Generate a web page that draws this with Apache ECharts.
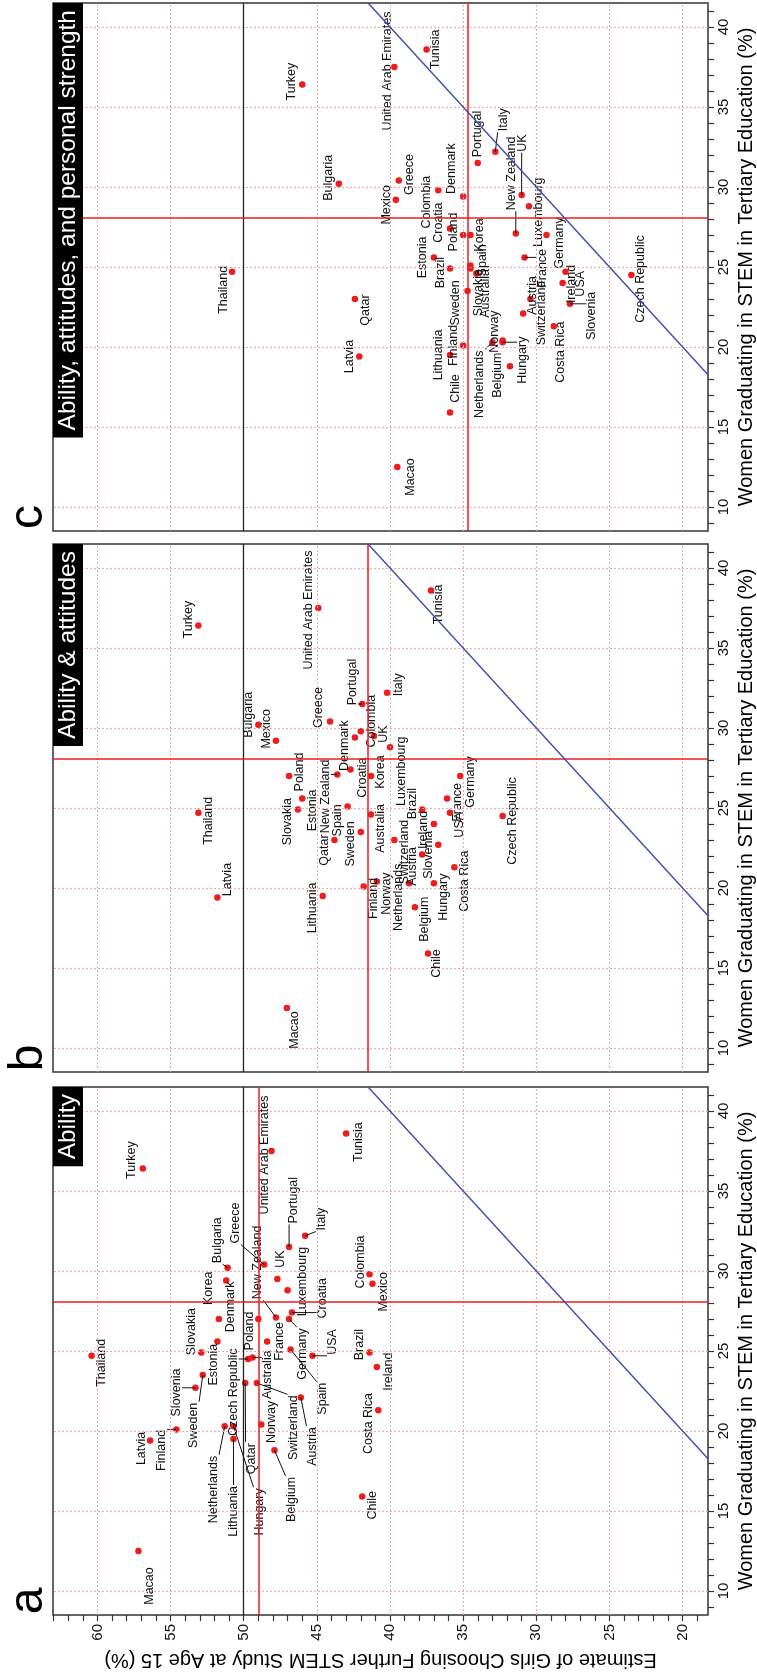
<!DOCTYPE html>
<html><head><meta charset="utf-8">
<script src="https://cdn.jsdelivr.net/npm/echarts@6/dist/echarts.min.js"></script>
<style>html,body{margin:0;padding:0;background:#fff}#chart{width:757px;height:1676px}</style>
</head><body><div id="chart"></div>
<script>
// ---------------- data ----------------
const countries = ['Macao','Thailand','Latvia','Finland','Slovenia','Sweden','Slovakia','Estonia','Korea','Denmark',
 'Bulgaria','Greece','Netherlands','Czech Republic','Lithuania','Hungary','Qatar','Poland','Australia','Switzerland',
 'Norway','New Zealand','United Arab Emirates','UK','Portugal','France','Germany','Luxembourg','Croatia','Belgium',
 'Austria','Spain','Italy','USA','Tunisia','Colombia','Mexico','Brazil','Ireland','Costa Rica','Chile','Turkey'];
// Women graduating in STEM (%) - shared by all panels
const stemGrad = [12.5,24.7,19.4,20.1,22.7,23.5,24.9,25.6,27.0,29.4,
 30.2,30.4,20.3,24.5,19.5,20.3,23.0,27.0,24.6,23.0,
 20.4,27.1,37.5,29.5,31.5,25.6,27.0,28.8,27.4,18.8,
 22.1,25.1,32.2,24.7,38.6,29.8,29.2,24.9,24.0,21.3,15.9,36.4];
// Estimate of girls choosing further STEM study (%)
const girlsAbility = [57.2,60.4,56.4,54.6,53.3,52.8,52.9,51.8,51.7,51.2,
 51.1,48.6,51.3,49.7,50.7,50.7,49.9,49.0,49.4,49.1,
 48.8,47.8,48.1,47.7,46.9,48.4,46.9,47.0,46.7,47.9,
 46.1,46.8,45.8,45.3,43.0,41.4,41.2,41.4,40.9,40.8,41.9,56.9];
const girlsAttitudes = [47.05,53.1,51.8,41.8,36.7,42.0,46.3,46.0,41.3,42.4,
 49.0,44.1,38.7,32.3,44.6,37.0,43.8,46.9,41.3,39.7,
 40.9,43.6,44.9,41.1,41.9,36.1,35.2,40.0,42.7,38.3,
 37.8,42.9,40.2,35.9,37.2,42.0,47.8,37.8,37.0,35.6,37.4,53.1];
const girlsPersonal = [39.5,50.8,42.1,35.0,27.7,34.7,34.5,37.0,34.5,35.0,
 43.5,39.4,33.0,23.5,35.9,32.3,42.4,35.0,34.1,30.4,
 32.3,31.4,39.7,31.0,34.0,30.8,29.3,30.5,35.9,31.8,
 30.9,34.5,32.8,28.0,37.5,36.7,39.6,35.9,28.2,28.8,35.9,46.0];
const meanGirls = [49.0, 41.5, 34.7];
const meanStem = 28.1;
const parityValue = 50;
const girlsTickLabels = [20,25,30,35,40,45,50,55,60];
const stemTickLabels = [10,15,20,25,30,35,40];
const panelTitles = ['Ability','Ability & attitudes','Ability, attitudes, and personal strength'];
const panelLetters = ['a','b','c'];
const xTitle = 'Women Graduating in STEM in Tertiary Education (%)';
const yTitle = 'Estimate of Girls Choosing Further STEM Study at Age 15 (%)';

// ---------------- label layout (pixel offsets of label centre from point, leader flag) ----------------
const layoutA = {
 'Macao':[10.7,35,0],'Thailand':[10.2,7,0],'Latvia':[-9,7.8,0],'Finland':[-15,21,1],'Slovenia':[-19,4.7,1],
 'Sweden':[-9.3,50.3,1],'Slovakia':[-10,-21,0],'Estonia':[-3.7,23.3,0],'Korea':[-10.3,-30.7,0],'Denmark':[4.3,26.3,0],
 'Bulgaria':[-10.6,-27.6,1],'Greece':[-29,-41.5,1],'Netherlands':[-11.3,63.3,1],'Czech Republic':[-15,33.3,1],
 'Lithuania':[0,72.3,1],'Hungary':[25.7,85.7,1],'Qatar':[6,75.7,1],'Poland':[-9.3,12,0],'Australia':[14.8,17.3,1],
 'Switzerland':[36.3,44.7,1],'Norway':[10.7,-2.7,0],'New Zealand':[-18.2,-55,1],'United Arab Emirates':[-7,4,0],
 'UK':[3.3,-20,0],'Portugal':[4.7,-46.8,1],'France':[12.7,0,0],'Germany':[13.5,35,1],'Luxembourg':[15.2,-8.7,0],
 'Croatia':[30.2,-14.3,1],'Belgium':[16.7,49.3,1],'Austria':[11.3,49,1],'Spain':[31.8,49.3,1],'Italy':[16.3,-16.7,1],
 'USA':[20.2,-13.8,1],'Tunisia':[12.3,8.7,0],'Colombia':[-9.3,-12.2,0],'Mexico':[10.7,8,0],'Brazil':[-10.3,-8,0],
 'Ireland':[11.7,4.7,0],'Costa Rica':[-9.3,13.3,0],'Chile':[10.3,8.7,0],'Turkey':[-11,-8.5,0]
};
const layoutB = {
 'Macao':[8,22,0],'Thailand':[10,8,0],'Latvia':[10,-18,0],'Finland':[10,12,0],'Slovenia':[-10,10,0],
 'Sweden':[-10,12,0],'Slovakia':[-10,12,0],'Estonia':[10,12,0],'Korea':[10,-4,0],'Denmark':[-10,8,0],
 'Bulgaria':[-10,-10,0],'Greece':[-11,-14,0],'Netherlands':[-10,14,0],'Czech Republic':[10,5,0],
 'Lithuania':[-10,12,0],'Hungary':[10,14,0],'Qatar':[-10,10,0],'Poland':[10,-4,0],'Australia':[10,14,0],
 'Switzerland':[10,12,0],'Norway':[10,12,0],'New Zealand':[-12,22,1],'United Arab Emirates':[-10,2,0],
 'UK':[10,-2,0],'Portugal':[-10,-22,1],'France':[10,4,0],'Germany':[10,6,0],'Luxembourg':[12,24,0],
 'Croatia':[12,8,0],'Belgium':[10,12,0],'Austria':[-10,12,0],'Spain':[-10,14,0],'Italy':[11,-8,0],
 'USA':[10,12,0],'Tunisia':[8,14,0],'Colombia':[11,-10,0],'Mexico':[-9,-12,0],'Brazil':[-10,-6,0],
 'Ireland':[-10,6,0],'Costa Rica':[10,14,0],'Chile':[9,10,0],'Turkey':[-10,-6,0]
};
const layoutC = {
 'Macao':[13,10,0],'Thailand':[-8,18,0],'Latvia':[-10,0,0],'Finland':[-10,0,0],'Slovenia':[22,12,1],
 'Sweden':[-12,12,0],'Slovakia':[8,24,0],'Estonia':[-11,0,0],'Korea':[9,0,0],'Denmark':[-12,-28,0],
 'Bulgaria':[-10,-6,0],'Greece':[11,-6,0],'Netherlands':[-13,42,1],'Czech Republic':[9,4,0],
 'Lithuania':[-11,0,0],'Hungary':[20,18,1],'Qatar':[11,11,0],'Poland':[-10,-3,0],'Australia':[9,20,0],
 'Switzerland':[11,14,0],'Norway':[-8,-9,0],'New Zealand':[-4,-60,1],'United Arab Emirates':[-7,4,0],
 'UK':[1,-52,1],'Portugal':[0,-29,0],'France':[18,11,1],'Germany':[13,8,0],'Luxembourg':[10,6,0],
 'Croatia':[-11,-6,0],'Belgium':[-12,9,0],'Austria':[9,-18,0],'Spain':[12,-5,0],'Italy':[8,-32,1],
 'USA':[15,12,0],'Tunisia':[9,0,0],'Colombia':[-12,12,0],'Mexico':[-9,5,0],'Brazil':[-9,4,0],
 'Ireland':[9,1,0],'Costa Rica':[7,26,0],'Chile':[6,-24,0],'Turkey':[-11,-3,0]
};

// ---------------- geometry & style ----------------
const FONT = '"Liberation Sans", Arial, Helvetica, sans-serif';
const LABEL_SIZE = 12.5;
const GRID_LEFT = 53, GRID_W = 655, GRID_H = 528;
const panelTops = [1087, 544, 3];
const girlsRange = [18.26, 63.04];
const stemRange = [8.5, 41.5];
const RED = '#ee1c1c', FRAME = '#333333', BLUE = '#3c4fb0', GRIDC = '#f3a9a9';

const measureCtx = document.createElement('canvas').getContext('2d');
function textW(t, size){ measureCtx.font = size + 'px ' + FONT; return measureCtx.measureText(t).width; }
function intRange(a,b){ const r=[]; for(let v=Math.ceil(a); v<=Math.floor(b); v++) r.push(v); return r; }

const chart = echarts.init(document.getElementById('chart'), null, {renderer:'canvas'});
const grids=[], xAxes=[], yAxes=[], series=[], graphics=[];
const girlsSets = [girlsAbility, girlsAttitudes, girlsPersonal];
const layouts = [layoutA, layoutB, layoutC];

panelTops.forEach((top, pi) => {
  const isA = pi === 0;
  grids.push({left:GRID_LEFT, top:top, width:GRID_W, height:GRID_H, show:true, borderColor:FRAME, borderWidth:1.5,
    backgroundColor:'rgba(0,0,0,0)', containLabel:false, outerBoundsMode:'none'});
  xAxes.push({gridIndex:pi, type:'value', min:girlsRange[0], max:girlsRange[1], inverse:true,
    axisLine:{show:false}, splitLine:{show:false},
    axisTick:{show:isA, customValues:intRange(girlsRange[0], girlsRange[1]), length:6, lineStyle:{color:FRAME, width:1.2}},
    axisLabel:{show:isA, customValues:girlsTickLabels, rotate:90, margin:9, fontSize:15, color:'#111', fontFamily:FONT}});
  yAxes.push({gridIndex:pi, type:'value', position:'right', min:stemRange[0], max:stemRange[1],
    axisLine:{show:false}, splitLine:{show:false},
    axisTick:{show:true, customValues:intRange(stemRange[0], stemRange[1]), length:6, lineStyle:{color:FRAME, width:1.2}},
    axisLabel:{show:true, customValues:stemTickLabels, rotate:90, margin:8, fontSize:15, color:'#111', fontFamily:FONT}});

  const girls = girlsSets[pi];
  const pts = countries.map((c,i) => [girls[i], stemGrad[i], i]);
  // dotted grid lines
  series.push({type:'scatter', xAxisIndex:pi, yAxisIndex:pi, data:[], symbolSize:0, silent:true, z:1,
    markLine:{silent:true, symbol:['none','none'], label:{show:false}, animation:false,
      lineStyle:{color:GRIDC, type:[2,2], width:1},
      data: girlsTickLabels.map(v=>({xAxis:v})).concat(stemTickLabels.map(v=>({yAxis:v})))}});
  // reference lines
  const lo = Math.max(girlsRange[0], stemRange[0]), hi = Math.min(girlsRange[1], stemRange[1]);
  series.push({type:'scatter', xAxisIndex:pi, yAxisIndex:pi, data:[], symbolSize:0, silent:true, z:2,
    markLine:{silent:true, symbol:['none','none'], label:{show:false}, animation:false,
      data:[
        {xAxis:parityValue, lineStyle:{color:'#222', width:1.3, type:'solid'}},
        {xAxis:meanGirls[pi], lineStyle:{color:RED, width:1.5, type:'solid'}},
        {yAxis:meanStem, lineStyle:{color:RED, width:1.5, type:'solid'}},
        [{coord:[lo,lo], lineStyle:{color:BLUE, width:1.4, type:'solid'}},{coord:[hi,hi]}]
      ]}});
  // points
  series.push({type:'scatter', xAxisIndex:pi, yAxisIndex:pi, data:pts.map(p=>[p[0],p[1]]), symbolSize:6.5,
    itemStyle:{color:RED, opacity:1}, z:3, silent:true, animation:false});
  // labels with leader lines
  const layout = layouts[pi];
  series.push({type:'custom', xAxisIndex:pi, yAxisIndex:pi, z:4, silent:true, animation:false,
    encode:{x:0, y:1}, data:pts,
    renderItem:function(params, api){
      const i = api.value(2);
      const p = api.coord([api.value(0), api.value(1)]);
      const name = countries[i];
      const lay = layout[name] || [10, 0, 0];
      const cx = p[0] + lay[0], cy = p[1] + lay[1];
      const w = textW(name, LABEL_SIZE);
      const children = [];
      if (lay[2]) {
        const hw = LABEL_SIZE*0.45, hh = w/2 + 1;
        const nx = Math.max(cx-hw, Math.min(p[0], cx+hw));
        const ny = Math.max(cy-hh, Math.min(p[1], cy+hh));
        children.push({type:'line', shape:{x1:p[0], y1:p[1], x2:nx, y2:ny}, style:{stroke:'#111', lineWidth:1}});
      }
      children.push({type:'text', x:cx, y:cy, rotation:Math.PI/2,
        style:{text:name, fontSize:LABEL_SIZE, fontFamily:FONT, fill:'#111', align:'center', verticalAlign:'middle'}});
      return {type:'group', children:children};
    }});

  // title box
  const tSize = 24.5, tw = textW(panelTitles[pi], tSize), bh = tw + 14;
  graphics.push({type:'rect', shape:{x:GRID_LEFT, y:top, width:30, height:bh}, style:{fill:'#000'}, z:10});
  graphics.push({type:'text', x:GRID_LEFT+15, y:top+bh/2, rotation:Math.PI/2, z:11,
    style:{text:panelTitles[pi], fontSize:tSize, fontFamily:FONT, fill:'#fff', align:'center', verticalAlign:'middle'}});
  // panel letter
  graphics.push({type:'text', x:29, y:top+GRID_H-14, rotation:Math.PI/2, z:10,
    style:{text:panelLetters[pi], fontSize:48, fontFamily:FONT, fill:'#000', align:'center', verticalAlign:'middle'}});
  // x title (right side)
  graphics.push({type:'text', x:746, y:top+GRID_H/2, rotation:Math.PI/2, z:10,
    style:{text:xTitle, fontSize:20, fontFamily:FONT, fill:'#000', align:'center', verticalAlign:'middle'}});
});
// y title (bottom, upside down)
graphics.push({type:'text', x:GRID_LEFT+GRID_W/2, y:1660, rotation:Math.PI, z:10,
  style:{text:yTitle, fontSize:20, fontFamily:FONT, fill:'#000', align:'center', verticalAlign:'middle'}});

chart.setOption({animation:false, backgroundColor:'#fff', grid:grids, xAxis:xAxes, yAxis:yAxes, series:series,
  graphic:{elements:graphics}});
</script></body></html>
